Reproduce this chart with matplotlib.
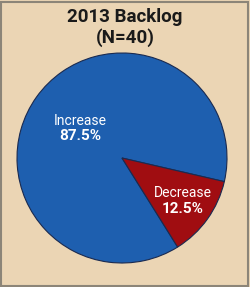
import matplotlib
matplotlib.use("Agg")
import matplotlib.pyplot as plt
from matplotlib.patches import Rectangle

categories = ["Increase", "Decrease"]
values = [87.5, 12.5]
pct_labels = ["87.5%", "12.5%"]
title_lines = ["2013 Backlog", "(N=40)"]

plt.rcParams["font.family"] = ["Roboto", "DejaVu Sans"]

W, H, DPI = 250, 287, 100
bg = "#EBD5B4"
colors = ["#1E5FAF", "#A00D11"]

fig = plt.figure(figsize=(W / DPI, H / DPI), dpi=DPI, facecolor=bg)

# frame
fig.patches.append(Rectangle((1 / W, 1 / H), 247 / W, 284 / H, transform=fig.transFigure,
                             fill=False, edgecolor="#8C8578", linewidth=1.5))

cx, cy, r = 122, 158, 105
ax = fig.add_axes([(cx - r) / W, (H - cy - r) / H, 2 * r / W, 2 * r / H])
ax.set_facecolor(bg)
ax.pie(values, colors=colors, startangle=-13, counterclock=True, radius=1,
       wedgeprops=dict(edgecolor="#1A2A50", linewidth=0.8))
ax.set_xlim(-1, 1)
ax.set_ylim(-1, 1)
ax.set_aspect("equal")
ax.axis("off")

def px(x, y):
    return ((x - cx) / r, (cy - y) / r)

lab_pos = [(80, 121, 136), (183, 193, 209)]
for cat, pct, (x, y1, y2) in zip(categories, pct_labels, lab_pos):
    ax.text(*px(x, y1), cat, color="white", fontsize=10, ha="center", va="center")
    ax.text(*px(x, y2), pct, color="white", fontsize=11, fontweight="bold", ha="center", va="center")

fig.text(0.5, 1 - 17 / H, title_lines[0], ha="center", va="center", fontsize=13.5,
         fontweight="bold", color="#1A1A1A")
fig.text(0.5, 1 - 38 / H, title_lines[1], ha="center", va="center", fontsize=13.5,
         fontweight="bold", color="#1A1A1A")

fig.savefig("out.png", dpi=DPI, facecolor=bg)
